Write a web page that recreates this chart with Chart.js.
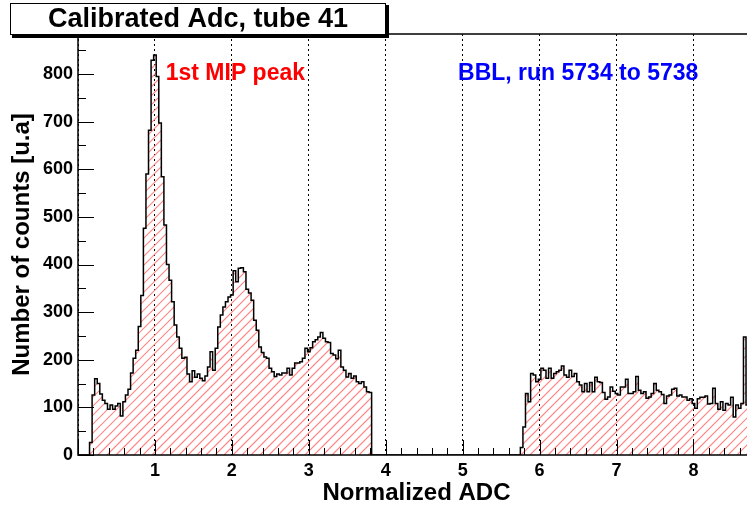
<!DOCTYPE html>
<html>
<head>
<meta charset="utf-8">
<title>Calibrated Adc, tube 41</title>
<script src="https://cdn.jsdelivr.net/npm/chart.js@4.4.1/dist/chart.umd.min.js"></script>
<style>
  html, body { margin: 0; padding: 0; background: #fff; overflow: hidden; }
  canvas { display: block; }
</style>
</head>
<body>
<canvas id="adcChart" width="755" height="509"></canvas>
<script>
// histogram binning (normalized ADC units)
const binWidth = 1 / 30;

// first part: pedestal tail, 1st / 2nd / 3rd MIP peaks
const mipRangeStart = 0.15;
const mipRangeCounts = [
  26, 126, 160, 150, 128, 115, 108, 96, 105, 96,
  103, 108, 82, 112, 126, 138, 172, 203, 220, 270,
  335, 476, 590, 682, 829, 840, 795, 697, 584, 483,
  400, 367, 322, 273, 248, 224, 203, 205, 170, 154,
  177, 163, 170, 161, 156, 166, 185, 217, 178, 224,
  269, 294, 311, 322, 332, 336, 387, 364, 392, 393,
  385, 348, 340, 325, 283, 262, 227, 215, 206, 203,
  182, 175, 165, 170, 168, 172, 172, 182, 168, 182,
  193, 193, 196, 203, 224, 217, 225, 238, 242, 248,
  257, 245, 238, 236, 213, 210, 202, 220, 185, 178,
  164, 171, 161, 166, 154, 150, 154, 143, 133, 131
];

// second part: high ADC plateau
const plateauRangeStart = 5.75;
const plateauRangeCounts = [
  16, 59, 129, 112, 171, 168, 154, 159, 182, 178,
  161, 182, 161, 171, 175, 178, 187, 168, 163, 178,
  165, 171, 154, 147, 133, 150, 133, 152, 133, 163,
  154, 152, 131, 117, 122, 143, 134, 129, 126, 143,
  143, 159, 129, 129, 133, 165, 136, 129, 133, 119,
  122, 129, 150, 136, 133, 127, 108, 124, 126, 138,
  140, 124, 126, 122, 122, 115, 118, 108, 98, 118,
  121, 121, 124, 107, 108, 140, 108, 96, 112, 94,
  108, 105, 121, 80, 105, 98, 108, 248, 105
];

const xMax = 8.8;
const yMax = 884;
const chartTitle = 'Calibrated Adc, tube 41';
const xTitle = 'Normalized ADC';
const yTitle = 'Number of counts [u.a]';
const peakNote = { text: '1st MIP peak', x: 1.14, y: 800, color: '#ff0000' };
const runNote = { text: 'BBL, run 5734 to 5738', x: 4.94, y: 800, color: '#0000ff' };

const fontFamily = "'Liberation Sans', Arial, Helvetica, sans-serif";
const hatchColor = 'rgb(255, 135, 135)';

// точки для ступенчатой линии: левый край каждого бина
function histPoints(start, counts) {
  const pts = [{ x: start, y: 0 }];
  counts.forEach((c, i) => pts.push({ x: start + i * binWidth, y: c }));
  pts.push({ x: start + counts.length * binWidth, y: 0 });
  return pts;
}

// красная штриховка под гистограммой (как стиль 3004 в ROOT)
const rootHatch = {
  id: 'rootHatch',
  beforeDatasetsDraw(chart) {
    const { ctx, chartArea: a, scales: { y } } = chart;
    const pts = chart.getDatasetMeta(0).data;
    if (!pts.length) return;
    const zeroY = y.getPixelForValue(0);
    ctx.save();
    ctx.beginPath();
    ctx.rect(a.left, a.top, a.right - a.left, a.bottom - a.top);
    ctx.clip();
    ctx.beginPath();
    ctx.moveTo(pts[0].x, zeroY);
    ctx.lineTo(pts[0].x, pts[0].y);
    for (let i = 1; i < pts.length; i++) {
      ctx.lineTo(pts[i].x, pts[i - 1].y);
      ctx.lineTo(pts[i].x, pts[i].y);
    }
    ctx.lineTo(pts[pts.length - 1].x, zeroY);
    ctx.closePath();
    ctx.clip();
    const h = a.bottom - a.top;
    ctx.strokeStyle = hatchColor;
    ctx.lineWidth = 1.2;
    ctx.setLineDash([]);
    ctx.beginPath();
    for (let s = a.left - h; s < a.right; s += 9) {
      ctx.moveTo(s, a.bottom);
      ctx.lineTo(s + h, a.top);
    }
    ctx.stroke();
    ctx.restore();
  }
};

// рамка, внутренние риски, заголовок и подписи
const rootFrame = {
  id: 'rootFrame',
  afterDraw(chart) {
    const { ctx, chartArea: a, scales: { x, y } } = chart;
    ctx.save();
    ctx.strokeStyle = '#000';
    ctx.lineWidth = 1;
    ctx.beginPath();
    for (let v = 0; v <= yMax; v += 50) {
      const py = Math.round(y.getPixelForValue(v)) + 0.5;
      const len = v % 100 === 0 ? 16 : 8;
      ctx.moveTo(a.left, py);
      ctx.lineTo(a.left + len, py);
    }
    for (let k = 0; k * 0.2 <= xMax; k++) {
      const px = Math.round(x.getPixelForValue(k * 0.2)) + 0.5;
      const len = k % 5 === 0 ? 15 : 7;
      ctx.moveTo(px, a.bottom);
      ctx.lineTo(px, a.bottom - len);
    }
    ctx.stroke();

    ctx.lineWidth = 1.5;
    ctx.strokeRect(a.left, a.top, a.right - a.left, a.bottom - a.top);

    // title box with shadow
    ctx.fillStyle = '#000';
    ctx.fillRect(12, 5, 377, 33);
    ctx.fillStyle = '#fff';
    ctx.fillRect(10, 3, 376, 32);
    ctx.lineWidth = 1;
    ctx.strokeRect(10.5, 3.5, 375, 31);
    ctx.fillStyle = '#000';
    ctx.font = 'bold 27px ' + fontFamily;
    ctx.textAlign = 'center';
    ctx.textBaseline = 'middle';
    ctx.fillText(chartTitle, 198, 20);

    ctx.font = 'bold 23px ' + fontFamily;
    ctx.textAlign = 'left';
    [peakNote, runNote].forEach(n => {
      ctx.fillStyle = n.color;
      ctx.fillText(n.text, x.getPixelForValue(n.x), y.getPixelForValue(n.y));
    });
    ctx.restore();
  }
};

function initChart() {
  const ctx = document.getElementById('adcChart').getContext('2d');
  const points = [{ x: 0, y: 0 }]
    .concat(histPoints(mipRangeStart, mipRangeCounts))
    .concat(histPoints(plateauRangeStart, plateauRangeCounts));

  new Chart(ctx, {
    type: 'line',
    data: {
      datasets: [{
        label: chartTitle,
        data: points,
        stepped: true,
        fill: false,
        borderColor: '#000',
        borderWidth: 1.5,
        pointRadius: 0,
        tension: 0
      }]
    },
    options: {
      responsive: false,
      animation: false,
      layout: { padding: { top: 34, left: 0, right: 0, bottom: 0 } },
      plugins: {
        legend: { display: false },
        tooltip: { enabled: false }
      },
      scales: {
        x: {
          type: 'linear',
          min: 0,
          max: xMax,
          afterFit: s => { s.height = 54; },
          grid: { display: true, color: '#000', lineWidth: 1, drawTicks: false },
          border: { display: false, dash: [2, 3] },
          ticks: {
            stepSize: 1,
            includeBounds: false,
            autoSkip: false,
            maxRotation: 0,
            padding: 5,
            color: '#000',
            font: { size: 18, weight: 'bold' },
            callback: v => (v === 0 ? '' : v)
          },
          title: {
            display: true,
            text: xTitle,
            color: '#000',
            font: { size: 24, weight: 'bold' },
            padding: { top: 0, bottom: 1 }
          }
        },
        y: {
          min: 0,
          max: yMax,
          afterFit: s => { s.width = 78; },
          grid: { display: false, drawTicks: false },
          border: { display: false },
          ticks: {
            stepSize: 100,
            includeBounds: false,
            padding: 5,
            color: '#000',
            font: { size: 18, weight: 'bold' }
          },
          title: {
            display: true,
            text: yTitle,
            color: '#000',
            font: { size: 24, weight: 'bold' },
            padding: { top: 8, bottom: 0 }
          }
        }
      }
    },
    plugins: [rootHatch, rootFrame]
  });
}

Chart.defaults.font.family = fontFamily;
document.addEventListener('DOMContentLoaded', initChart);
</script>
</body>
</html>
